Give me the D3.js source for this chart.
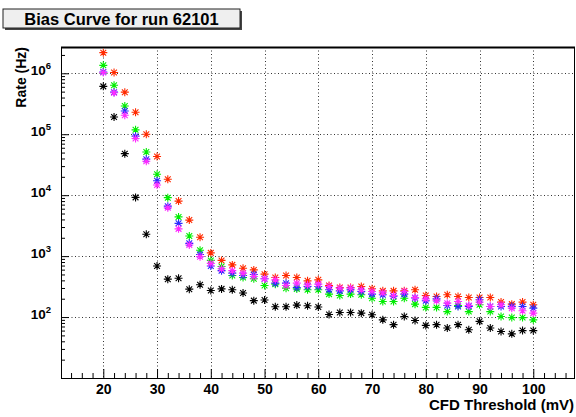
<!DOCTYPE html>
<html><head><meta charset="utf-8">
<script src="https://cdn.jsdelivr.net/npm/d3@7"></script>
<style>body{margin:0;background:#fff}svg{display:block}text{font-family:"Liberation Sans",Arial,sans-serif;font-weight:bold}</style>
</head><body><svg id="c" width="576" height="417"></svg>
<script>
const thresholds = d3.range(20, 101, 2);
const redRate = [2.18e6,1.03e6,4.9e5,2.3e5,1.0e5,4.3e4,1.82e4,8.0e3,3.9e3,2.04e3,1130,850,718,634,594,506,445,480,445,393,408,329,305,305,317,291,269,269,269,280,226,217,232,217,209,209,209,176,163,176,159];
const greenRate = [1.35e6,6.36e5,2.9e5,1.18e5,5.1e4,2.2e4,9.1e3,4.4e3,2.14e3,1250,850,675,480,445,424,329,347,298,290,280,280,238,226,238,232,204,180,180,204,163,144,144,123,155,123,159,123,102,98,98,90];
const blueRate = [1.05e6,4.9e5,2.4e5,9.3e4,3.9e4,1.72e4,6.6e3,3.45e3,1.62e3,1060,690,577,525,480,500,424,360,360,305,317,317,280,269,280,262,238,232,220,238,205,185,199,155,149,150,192,149,149,150,149,140];
const magentaRate = [1.03e6,4.8e5,2.05e5,8.5e4,3.6e4,1.47e4,6.2e3,2.8e3,1.52e3,980,760,620,577,525,462,424,408,329,360,338,347,317,298,298,280,262,250,226,262,209,199,185,169,180,155,176,149,159,140,127,116];
const blackRate = [6.1e5,1.92e5,4.8e4,9.2e3,2.29e3,690,419,434,287,339,272,290,280,248,186,191,148,148,157,153,146,110,119,119,116,109,90,75,102,88,73,75,66,75,62,85,66,58,53,60,60];
const seriesColors = ["#ff2a00","#00ee00","#2a2aff","#ff2aff","#000000"];
const xTicks = [20,30,40,50,60,70,80,90,100];
const yDecades = [2,3,4,5,6];
const titleText = "Bias Curve for run 62101";
const xTitle = "CFD Threshold (mV)";
const yTitle = "Rate (Hz)";

const svg = d3.select("#c");
const L=61, R=575, T=47, B=378;
const x = d3.scaleLinear().domain([12.13, 107.76]).range([L, R]);
const y = d3.scaleLog().domain([10, 2.7e6]).range([B, T]);

// title box
svg.append("rect").attr("x",5).attr("y",11).attr("width",237).attr("height",19).attr("fill","#444");
svg.append("rect").attr("x",3).attr("y",9).attr("width",237).attr("height",19).attr("fill","#efefef").attr("stroke","#222").attr("stroke-width",1);
svg.append("text").attr("x",121.5).attr("y",24.5).attr("text-anchor","middle").attr("font-size",16.5).text(titleText);

// grid
const g = svg.append("g");
g.selectAll(".vg").data(xTicks).join("line").attr("x1",d=>Math.round(x(d))+0.5).attr("x2",d=>Math.round(x(d))+0.5).attr("y1",T).attr("y2",B)
 .attr("stroke","#000").attr("stroke-width",0.8).attr("stroke-dasharray","1,2.5");
g.selectAll(".hg").data(yDecades).join("line").attr("y1",d=>Math.round(y(Math.pow(10,d)))+0.5).attr("y2",d=>Math.round(y(Math.pow(10,d)))+0.5).attr("x1",L).attr("x2",R)
 .attr("stroke","#000").attr("stroke-width",0.8).attr("stroke-dasharray","1,2.5");

// x axis ticks (inward)
const xMinor = d3.range(14, 107, 2).filter(v=>!xTicks.includes(v));
const xa = svg.append("g").attr("transform",`translate(0,${B})`)
  .call(d3.axisBottom(x).tickValues(xTicks).tickSizeInner(-9).tickSizeOuter(0).tickFormat(d3.format("d")));
xa.select(".domain").remove();
xa.selectAll("text").attr("font-size",14).attr("fill","#000").attr("y",16).attr("dy",0);
xa.selectAll(".tick line").attr("stroke","#000");
svg.append("g").attr("transform",`translate(0,${B})`)
  .call(d3.axisBottom(x).tickValues(xMinor).tickSizeInner(-5).tickSizeOuter(0).tickFormat(""))
  .call(s=>{s.select(".domain").remove();s.selectAll("line").attr("stroke","#000");});

// y axis ticks
const yMajor = yDecades.map(d=>Math.pow(10,d));
const yMinor = [];
for (let e=1;e<=6;e++) for (let m=2;m<=9;m++){const v=m*Math.pow(10,e); if(v<=2.7e6) yMinor.push(v);}
svg.append("g").attr("transform",`translate(${L},0)`)
  .call(d3.axisLeft(y).tickValues(yMajor).tickSizeInner(-8).tickSizeOuter(0).tickFormat(""))
  .call(s=>{s.select(".domain").remove();s.selectAll("line").attr("stroke","#000");});
svg.append("g").attr("transform",`translate(${L},0)`)
  .call(d3.axisLeft(y).tickValues(yMinor).tickSizeInner(-4).tickSizeOuter(0).tickFormat(""))
  .call(s=>{s.select(".domain").remove();s.selectAll("line").attr("stroke","#000");});
const yl = svg.append("g").selectAll("text").data(yDecades).join("text")
  .attr("x",51).attr("y",d=>y(Math.pow(10,d))+1.5).attr("text-anchor","end").attr("font-size",13.5);
yl.append("tspan").text("10");
yl.append("tspan").attr("dy",-6).attr("font-size",9.5).text(d=>d);

// frame
svg.append("rect").attr("x",L+0.5).attr("y",T+0.5).attr("width",R-L-1).attr("height",B-T).attr("fill","none").attr("stroke","#000").attr("stroke-width",1);
svg.append("line").attr("x1",L).attr("x2",R).attr("y1",T+0.5).attr("y2",T+0.5).attr("stroke","#000").attr("stroke-width",2);

// axis titles
svg.append("text").attr("x",574).attr("y",410).attr("text-anchor","end").attr("font-size",15).text(xTitle);
svg.append("text").attr("transform","translate(26,47) rotate(-90)").attr("text-anchor","end").attr("font-size",14).text(yTitle);

// markers
const r=4, dd=r*0.72;
const star = `M${-r},0L${r},0M0,${-r}L0,${r}M${-dd},${-dd}L${dd},${dd}M${-dd},${dd}L${dd},${-dd}`;
const all = [redRate, greenRate, blueRate, magentaRate, blackRate];
all.forEach((arr,i)=>{
  svg.append("g").selectAll("path").data(arr.map((v,k)=>[thresholds[k],v])).join("path")
    .attr("transform",d=>`translate(${x(d[0])},${y(d[1])})`)
    .attr("d",star).attr("fill","none").attr("stroke",seriesColors[i]).attr("stroke-width",1.1);
});
</script></body></html>
